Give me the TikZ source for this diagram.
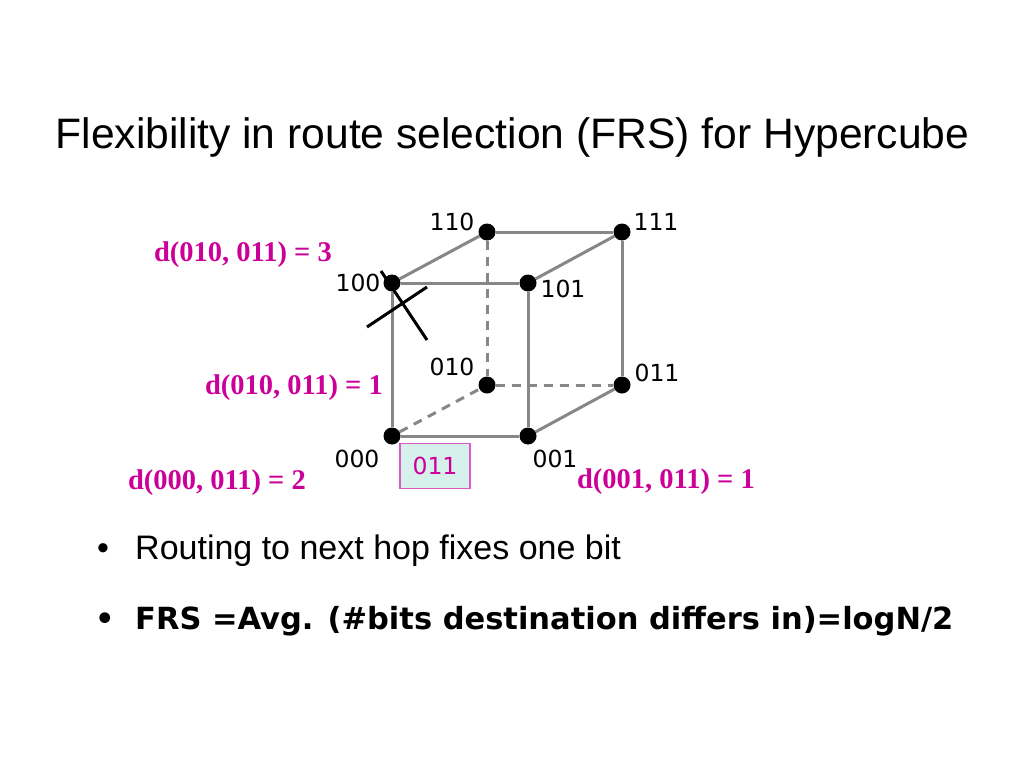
\documentclass[tikz,border=0pt]{standalone}
\usepackage{fontspec}
\setmainfont{Liberation Sans}
\newfontfamily\dejavu{DejaVu Sans}
\newfontfamily\timesf{Liberation Serif}
\definecolor{mag}{RGB}{204,0,153}
\definecolor{edgegray}{RGB}{135,135,135}
\definecolor{boxfill}{RGB}{214,240,236}
\definecolor{boxline}{RGB}{220,90,200}
\begin{document}
\begin{tikzpicture}[x=1pt,y=-1pt,
  vtx/.style={circle,fill=black,inner sep=0pt,minimum size=17pt},
  edge/.style={draw=edgegray,line width=3pt},
  hidden/.style={edge,dash pattern=on 9pt off 7pt},
  vlabel/.style={font=\dejavu\fontsize{23.5}{28}\selectfont,inner sep=0pt},
  dist/.style={font=\timesf\bfseries\fontsize{28.5}{32}\selectfont,text=mag,inner sep=0pt},
  crossline/.style={draw=black,line width=3pt},
  titletext/.style={font=\fontsize{42.6}{50}\selectfont,inner sep=0pt,anchor=base},
  bullettext/.style={font=\fontsize{34}{40}\selectfont,inner sep=0pt,anchor=base west},
  boldtext/.style={font=\dejavu\bfseries\fontsize{30.5}{36}\selectfont,inner sep=0pt,anchor=base west}]
\useasboundingbox[fill=white] (0,0) rectangle (1024,768);

% title
\node[titletext] (title) at (512.5,148) {Flexibility in route selection (FRS) for Hypercube};

% vertices
\node[vtx] (v000) at (392,436) {};
\node[vtx] (v001) at (528,436) {};
\node[vtx] (v010) at (487,385) {};
\node[vtx] (v011) at (622,385) {};
\node[vtx] (v100) at (392,283) {};
\node[vtx] (v101) at (528,283) {};
\node[vtx] (v110) at (487,232) {};
\node[vtx] (v111) at (622,232) {};

% edges
\draw[edge] (v100) -- (v101);
\draw[edge] (v110) -- (v111);
\draw[edge] (v100) -- (v110);
\draw[edge] (v101) -- (v111);
\draw[edge] (v100) -- (v000);
\draw[edge] (v101) -- (v001);
\draw[edge] (v111) -- (v011);
\draw[edge] (v000) -- (v001);
\draw[edge] (v001) -- (v011);
\draw[hidden] (v110) -- (v010);
\draw[hidden] (v010) -- (v011);
\draw[hidden] (v000) -- (v010);

% vertex labels
\node[vlabel] (l110) at (452,222) {110};
\node[vlabel] (l111) at (656,222) {111};
\node[vlabel] (l100) at (358,283) {100};
\node[vlabel] (l101) at (563,289) {101};
\node[vlabel] (l010) at (452,367) {010};
\node[vlabel] (l011) at (657,373) {011};
\node[vlabel] (l000) at (357,459) {000};
\node[vlabel] (l001) at (555,459) {001};

% cross
\coordinate (ca1) at (367,327);
\coordinate (ca2) at (427,287);
\coordinate (cb1) at (381,271);
\coordinate (cb2) at (427,340);
\draw[crossline] (ca1) -- (ca2);
\draw[crossline] (cb1) -- (cb2);

% destination box
\node[draw=boxline,line width=1.2pt,fill=boxfill,minimum width=70pt,minimum height=45pt,inner sep=0pt,
      font=\dejavu\fontsize{23.5}{28}\selectfont,text=mag] (dest) at (435,466) {011};

% distance labels
\node[dist] (d1) at (243,255) {d(010, 011) = 3};
\node[dist] (d2) at (294,388) {d(010, 011) = 1};
\node[dist] (d3) at (217,483) {d(000, 011) = 2};
\node[dist] (d4) at (666,482) {d(001, 011) = 1};

% bullets
\node[bullettext] (b1) at (97,559) {•};
\node[bullettext] (t1) at (135,559) {Routing to next hop fixes one bit};
\node[boldtext] (b2) at (95,629) {•};
\node[boldtext] (t2) at (135,629) {FRS =Avg. (\#bits destination differs in)=logN/2};
\end{tikzpicture}
\end{document}
